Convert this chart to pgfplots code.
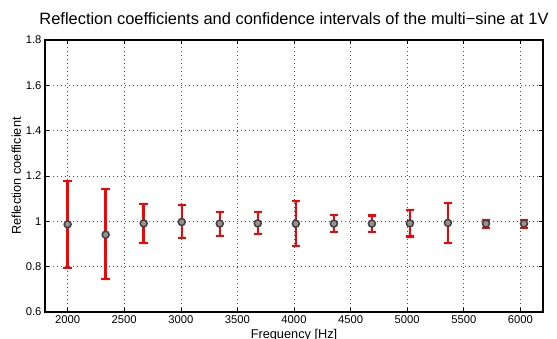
\documentclass[border=0pt]{standalone}
\usepackage{fontspec}
\setmainfont{Liberation Sans}
\usepackage{pgfplots}
\usepackage{pgfplotstable}
\pgfplotsset{compat=1.18}
\pgfplotstableread{
x     y      lo     hi
2000  0.987  0.795  1.177
2336  0.941  0.746  1.142
2672  0.991  0.905  1.078
3008  0.997  0.927  1.072
3344  0.990  0.937  1.041
3680  0.991  0.943  1.041
4016  0.990  0.891  1.089
4352  0.990  0.952  1.029
4688  0.990  0.953  1.026
5024  0.991  0.933  1.050
5360  0.993  0.903  1.082
5696  0.990  0.971  1.007
6032  0.990  0.971  1.007
}\rc
\begin{document}
\begin{tikzpicture}
\path[use as bounding box] (-45bp,-27bp) rectangle (512bp,312bp);
\begin{axis}[
  at={(0,0)}, anchor=south west,
  scale only axis, width=498bp, height=272bp,
  xmin=1800, xmax=6200, ymin=0.6, ymax=1.8,
  clip=false,
  xtick={2000,2500,3000,3500,4000,4500,5000,5500,6000},
  ytick={0.6,0.8,1,1.2,1.4,1.6,1.8},
  scaled ticks=false,
  /pgf/number format/1000 sep={},
  /pgf/number format/assume math mode=true,
  tick label style={font=\fontsize{11.3}{13}\selectfont},
  tick align=inside,
  major tick length=4bp,
  tick style={black, line width=0.6bp},
  axis line style={black, line width=1.2bp},
  grid=major,
  major grid style={black!70, line width=0.6bp, dash pattern=on 0.7bp off 3.3bp},
  xlabel={Frequency [Hz]},
  xlabel style={yshift=1bp},
  ylabel={Reflection coefficient},
  label style={font=\fontsize{12.8}{14}\selectfont},
  ylabel style={yshift=-2bp},
  title={Reflection coefficients and confidence intervals of the multi\textminus sine at 1V},
  title style={font=\fontsize{16.5}{18}\selectfont, at={(0.5,1)}, anchor=base, yshift=10bp},
  unbounded coords=jump,
]
% confidence interval bars
\addplot[red, solid, line width=2.4bp, mark=none] coordinates {
  (2000,0.795) (2000,1.177) (2000,nan)
  (2336,0.746) (2336,1.142) (2336,nan)
  (2672,0.905) (2672,1.078) (2672,nan)
  (3008,0.927) (3008,1.072) (3008,nan)
  (3344,0.937) (3344,1.041) (3344,nan)
  (3680,0.943) (3680,1.041) (3680,nan)
  (4016,0.891) (4016,1.089) (4016,nan)
  (4352,0.952) (4352,1.029) (4352,nan)
  (4688,0.953) (4688,1.026) (4688,nan)
  (5024,0.933) (5024,1.050) (5024,nan)
  (5360,0.903) (5360,1.082) (5360,nan)
  (5696,0.971) (5696,1.007) (5696,nan)
  (6032,0.971) (6032,1.007)
};
% caps
\addplot[only marks, mark=-, mark size=4.2bp, mark options={draw=red, line width=2.2bp}]
  table[x=x, y=lo]{\rc};
\addplot[only marks, mark=-, mark size=4.2bp, mark options={draw=red, line width=2.2bp}]
  table[x=x, y=hi]{\rc};
% estimates
\addplot[only marks, mark=*, mark size=3.5bp,
  mark options={fill=gray!85!white, draw=black!75, line width=1.5bp}]
  table[x=x, y=y]{\rc};
\end{axis}
\end{tikzpicture}
\end{document}
